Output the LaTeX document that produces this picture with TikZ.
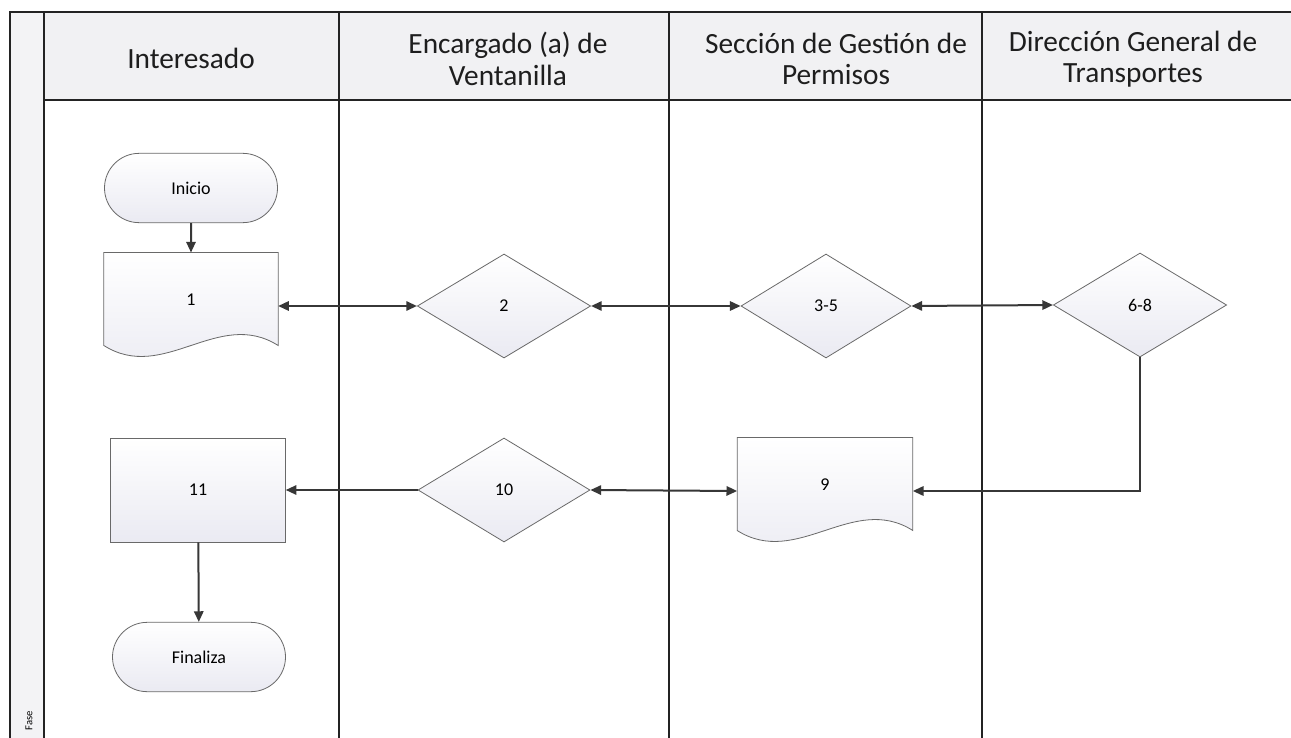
\documentclass[tikz,border=0pt]{standalone}
\usepackage{fontspec}
\setmainfont{Carlito}
\usetikzlibrary{arrows.meta,shapes.geometric,shapes.misc,calc}

\tikzset{every picture/.style={line width=0.75pt}}
\tikzset{
	lane/.style={draw={rgb, 255:red, 35; green, 35; blue, 35 }, line width=1pt},
	shapebox/.style={draw={rgb, 255:red, 105; green, 105; blue, 105 }, line width=0.6pt, top color=white, bottom color={rgb, 255:red, 234; green, 234; blue, 242 }, font=\fontsize{13.5}{15}\selectfont},
	startend/.style={shapebox, rounded rectangle, inner sep=0pt, minimum width=129.75pt, minimum height=52pt},
	decision/.style={shapebox, diamond, inner sep=0pt, minimum width=130pt, minimum height=78pt},
	process/.style={shapebox, rectangle, inner sep=0pt, minimum width=131pt, minimum height=78pt},
	docbox/.style={rectangle, inner sep=0pt, minimum width=130pt, minimum height=79.5pt, font=\fontsize{13.5}{15}\selectfont},
	flow/.style={draw={rgb, 255:red, 55; green, 55; blue, 55 }, line width=1.5pt, >={Triangle[length=8pt,width=7pt]}},
	header/.style={align=center, font=\fontsize{22}{23.5}\selectfont, text={rgb, 255:red, 30; green, 30; blue, 30 }}
}

\begin{document}
\begin{tikzpicture}[x=0.75pt,y=0.75pt,yscale=-1,xscale=1]
	\useasboundingbox [fill=white] (0,0) rectangle (1291,738);

	% swimlane frame
	\fill [color={rgb, 255:red, 241; green, 241; blue, 243 }] (44,12) rectangle (1291,100);
	\fill [color={rgb, 255:red, 243; green, 243; blue, 245 }] (10,12) rectangle (44,738);
	\draw [lane] (10,738) -- (10,12) -- (1291,12);
	\draw [lane] (44,12) -- (44,738);
	\draw [lane] (44,100) -- (1291,100);
	\draw [lane] (339,12) -- (339,738);
	\draw [lane] (669,12) -- (669,738);
	\draw [lane] (982,12) -- (982,738);

	\node [header] (hInt) at (191,58) {Interesado};
	\node [header] (hEnc) at (508,59) {Encargado (a) de\\Ventanilla};
	\node [header] (hSec) at (836,59) {Sección de Gestión de\\Permisos};
	\node [header] (hDir) at (1133,59) {Dirección General de\\Transportes};
	\node [rotate=90, font=\fontsize{8}{9}\selectfont] (fase) at (29,721) {Fase};

	% shapes
	\node [startend] (inicio) at (191,188) {Inicio};
	\node [docbox] (d1) at (191,306) {};
	\draw [shapebox] (d1.north west) -- (d1.north east) -- ($(d1.south east)+(0,-14)$) .. controls ($(d1.south east)+(-60,-52)$) and ($(d1.south west)+(60,24)$) .. ($(d1.south west)+(0,-14)$) -- cycle;
	\node [docbox] (d1t) at (d1) {\raisebox{10pt}{1}};
	\node [decision] (r2) at (504,306) {2};
	\node [decision, minimum width=127.5pt] (r35) at (826,306) {3-5};
	\node [decision] (r68) at (1140,305) {6-8};

	\node [docbox, minimum width=131pt] (d9) at (825,491) {};
	\draw [shapebox] (d9.north west) -- (d9.north east) -- ($(d9.south east)+(0,-14)$) .. controls ($(d9.south east)+(-60,-52)$) and ($(d9.south west)+(60,24)$) .. ($(d9.south west)+(0,-14)$) -- cycle;
	\node [docbox] (d9t) at (d9) {\raisebox{9.5pt}{9}};
	\node [decision, minimum width=129pt] (r10) at (504,490) {10};
	\node [process] (p11) at (198,490) {11};
	\node [startend] (fin) at (199,657) {Finaliza};

	% connectors
	\draw [flow, ->] (inicio) -- (d1);
	\draw [flow, <->] (d1.east) -- (r2.west);
	\draw [flow, <->] (r2.east) -- (r35.west);
	\draw [flow, <->] (r35.east) -- (r68.west);
	\draw [flow, ->] (r68.south) |- (d9.east);
	\draw [flow, <->] (r10.east) -- (d9.west);
	\draw [flow, ->] (r10.west) -- (p11.east);
	\draw [flow, ->] (p11) -- (fin);

\end{tikzpicture}
\end{document}
